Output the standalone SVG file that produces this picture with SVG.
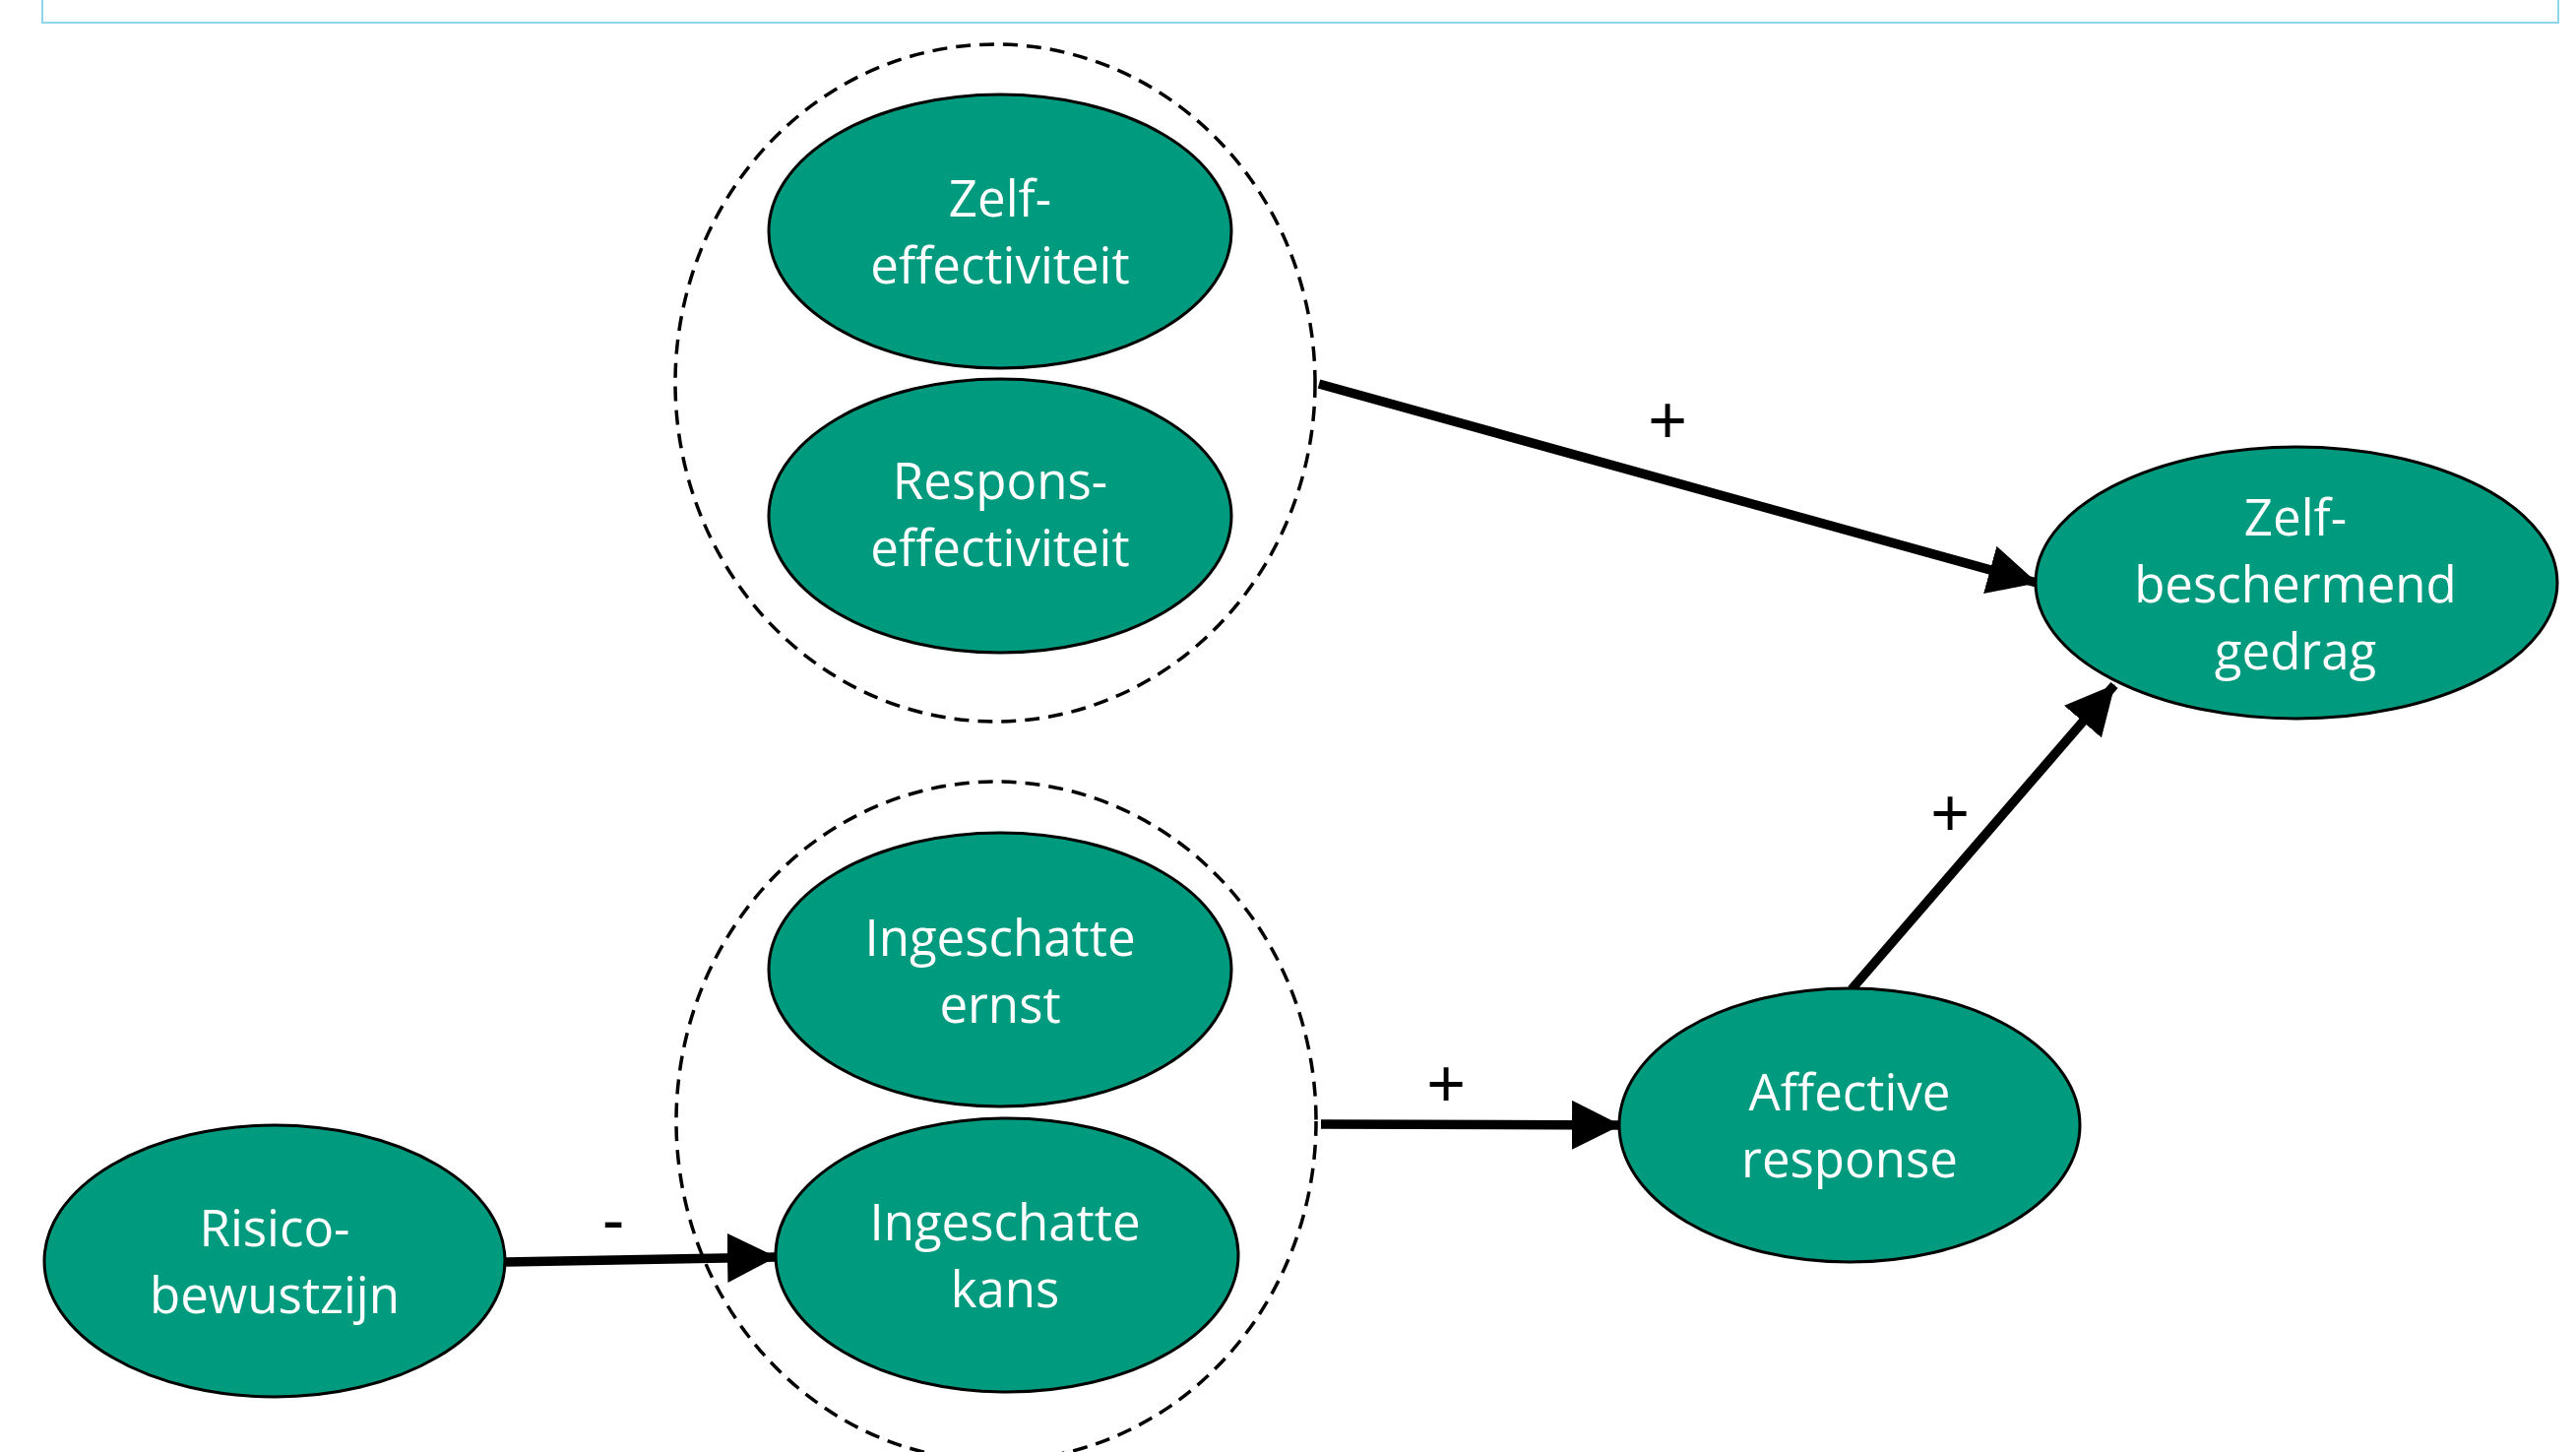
<svg xmlns="http://www.w3.org/2000/svg" width="2617" height="1475" viewBox="0 0 2617 1475">
<style>
.node{fill:#009B7F;stroke:#000;stroke-width:3}
.lbl{font-family:"Open Sans",Lato,"Liberation Sans",sans-serif;font-size:51px;fill:#fff;text-anchor:middle;font-variant-ligatures:none}
.grp{fill:none;stroke:#000;stroke-width:3.5;stroke-dasharray:15 9}
.edge{stroke:#000;stroke-width:9.5;fill:none}
.sign{font-family:"Liberation Sans",Arial,sans-serif;font-size:68px;fill:#000;text-anchor:middle}
</style>
<defs>
<marker id="ah" markerUnits="userSpaceOnUse" markerWidth="52" markerHeight="50" refX="49" refY="25" orient="auto">
<path d="M0,0 L50,25 L0,50 Z" fill="#000"/>
</marker>
</defs>
<rect width="2617" height="1475" fill="#fff"/>
<rect x="43" y="-20" width="2556" height="43" fill="none" stroke="#8fd6ea" stroke-width="2"/>
<g id="group-efficacy"><ellipse class="grp" cx="1011" cy="389" rx="325" ry="344"/></g>
<g id="group-threat"><ellipse class="grp" cx="1012" cy="1139" rx="325" ry="345"/></g>
<g id="connectors">
<line class="edge" x1="1340" y1="390" x2="2069" y2="592" marker-end="url(#ah)"/>
<line class="edge" x1="1342" y1="1142" x2="1646" y2="1143" marker-end="url(#ah)"/>
<line class="edge" x1="514" y1="1282" x2="788" y2="1277" marker-end="url(#ah)"/>
<line class="edge" x1="1881" y1="1005" x2="2148" y2="696" marker-end="url(#ah)"/>
<text class="sign" x="1694" y="450">+</text>
<text class="sign" x="1469" y="1124">+</text>
<text class="sign" x="623" y="1263">-</text>
<text class="sign" x="1981" y="849">+</text>
</g>
<g id="zelf-effectiviteit"><ellipse class="node" cx="1016" cy="235" rx="235" ry="139"/>
<text class="lbl" x="1016" y="220">Zelf-</text><text class="lbl" x="1016" y="288">effectiviteit</text></g>
<g id="respons-effectiviteit"><ellipse class="node" cx="1016" cy="524" rx="235" ry="139"/>
<text class="lbl" x="1016" y="507">Respons-</text><text class="lbl" x="1016" y="575">effectiviteit</text></g>
<g id="ingeschatte-ernst"><ellipse class="node" cx="1016" cy="985" rx="235" ry="139"/>
<text class="lbl" x="1016" y="971">Ingeschatte</text><text class="lbl" x="1016" y="1039">ernst</text></g>
<g id="ingeschatte-kans"><ellipse class="node" cx="1023" cy="1275" rx="235" ry="139"/>
<text class="lbl" x="1021" y="1260">Ingeschatte</text><text class="lbl" x="1021" y="1328">kans</text></g>
<g id="risicobewustzijn"><ellipse class="node" cx="279" cy="1281" rx="234" ry="138"/>
<text class="lbl" x="279" y="1266">Risico-</text><text class="lbl" x="279" y="1334">bewustzijn</text></g>
<g id="affective-response"><ellipse class="node" cx="1879" cy="1143" rx="234" ry="139"/>
<text class="lbl" x="1879" y="1128">Affective</text><text class="lbl" x="1879" y="1196">response</text></g>
<g id="zelfbeschermend-gedrag"><ellipse class="node" cx="2333" cy="592" rx="265" ry="138"/>
<text class="lbl" x="2332" y="544">Zelf-</text><text class="lbl" x="2332" y="612">beschermend</text><text class="lbl" x="2332" y="680">gedrag</text></g>
</svg>
